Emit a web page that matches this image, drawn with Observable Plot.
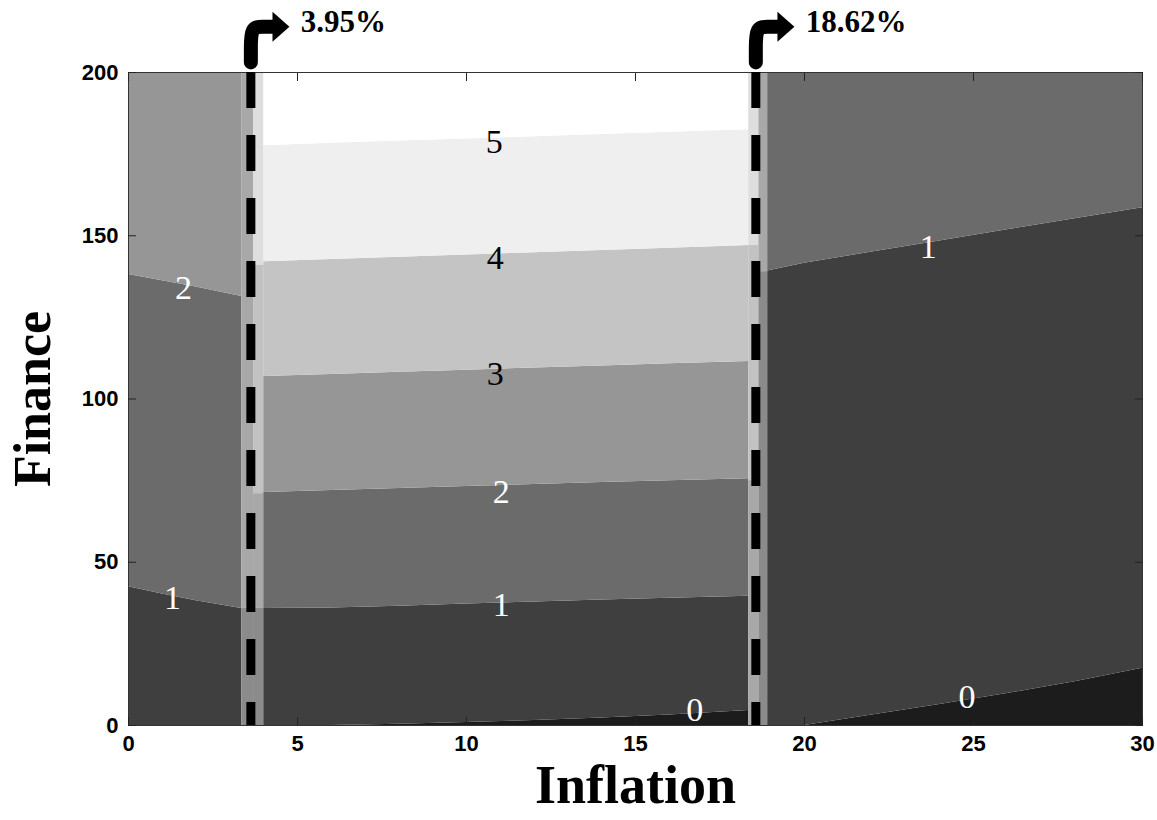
<!DOCTYPE html>
<html><head><meta charset="utf-8">
<script src="https://cdn.jsdelivr.net/npm/d3@7"></script>
<script src="https://cdn.jsdelivr.net/npm/@observablehq/plot@0.6"></script>
<style>body{margin:0;background:#fff}#chart svg{display:block}</style>
</head><body><div id="chart"></div>
<script>
// ---- axes
const xTicks = [0, 5, 10, 15, 20, 25, 30];
const yTicks = [0, 50, 100, 150, 200];

// ---- left region (inflation below the first threshold): levels 1..3
const leftX   = [0, 1, 2, 3.35];
const leftB12 = [42.5, 40.3, 38.2, 35.8];
const leftB23 = [138.1, 136.2, 134.3, 131.4];

// ---- middle region: levels 0..6
const midX   = [4.0, 6, 8, 10, 12, 14, 16, 18.35];
const midB01 = [0, 0, 0.4, 0.9, 1.5, 2.3, 3.2, 4.6];
const midB12 = [35.8, 36.0, 36.5, 37.2, 37.8, 38.4, 39.0, 39.6];
const midB23 = [71.4, 72.0, 72.6, 73.2, 73.8, 74.4, 75.0, 75.6];
const midB34 = [106.9, 107.5, 108.2, 108.8, 109.5, 110.1, 110.8, 111.5];
const midB45 = [142.0, 142.7, 143.4, 144.1, 144.8, 145.5, 146.2, 147.0];
const midB56 = [177.6, 178.3, 179.0, 179.6, 180.3, 181.0, 181.7, 182.5];

// ---- right region: levels 0..2
const rightX   = [18.91, 20, 22, 24, 26, 28, 30];
const rightB01 = [0, 0, 3.2, 6.4, 9.8, 13.4, 17.5];
const rightB12 = [139.2, 141.6, 145.0, 148.4, 151.8, 155.2, 158.6];

// ---- transition strips at the thresholds
const bandX1   = [3.35, 3.35, 3.7, 3.7, 3.7, 3.7, 18.35, 18.35, 18.35, 18.65, 18.65];
const bandX2   = [3.7, 3.7, 4.0, 4.0, 4.0, 4.0, 18.65, 18.65, 18.65, 18.91, 18.91];
const bandY1   = [36, 0, 141, 71, 36, 0, 147, 75, 0, 139, 0];
const bandY2   = [200, 36, 200, 141, 71, 36, 200, 147, 75, 200, 139];
const bandTone = ["gA", "gB", "gC", "gD", "gA", "gB", "gC", "gD", "gA", "gA", "gB"];

// ---- thresholds
const thresholds = [3.62, 18.56];
const thresholdLabels = ["3.95%", "18.62%"];

// ---- contour labels
const labelText = ["5", "4", "3", "2", "1", "0", "2", "1", "1", "0"];
const labelX = [10.82, 10.85, 10.85, 11.03, 11.03, 16.75, 1.63, 1.30, 23.66, 24.81];
const labelY = [178.6, 143.3, 107.5, 71.4, 36.8, 4.6, 134.1, 38.9, 146.4, 8.6];

// ---- palette
const toneKeys   = ["L0", "L1", "L2", "L3", "L4", "L5", "L6", "gA", "gB", "gC", "gD"];
const toneColors = ["#1c1c1c", "#3f3f3f", "#6b6b6b", "#969696", "#c4c4c4", "#efefef", "#ffffff",
                    "#a8a8a8", "#8b8b8b", "#dedede", "#c2c2c2"];

function regionRows(region, xs, inner, firstLevel) {
  const bounds = [xs.map(() => 0), ...inner, xs.map(() => 200)];
  const rows = [];
  for (let k = 0; k < bounds.length - 1; k++) {
    xs.forEach((x, i) => rows.push({region, level: "L" + (firstLevel + k), x, y1: bounds[k][i], y2: bounds[k + 1][i]}));
  }
  return rows;
}
const areaRows = [
  ...regionRows("left", leftX, [leftB12, leftB23], 1),
  ...regionRows("mid", midX, [midB01, midB12, midB23, midB34, midB45, midB56], 0),
  ...regionRows("right", rightX, [rightB01, rightB12], 0)
];
const bandRows = bandX1.map((x1, i) => ({x1, x2: bandX2[i], y1: bandY1[i], y2: bandY2[i], tone: bandTone[i]}));
const labelRows = labelText.map((t, i) => ({text: t, x: labelX[i], y: labelY[i]}));

const arrowRows = thresholds.flatMap((t, i) =>
  [[t, 203.1], [t, 207.0], [t, 214.0], [t + 0.35, 214.0], [t + 0.66, 214.0]].map(([x, y]) => ({id: i, x, y})));

const arrowHead = {
  draw(context, size) {
    const r = Math.sqrt(size / Math.PI);
    context.moveTo(r * 1.13, 0);
    context.lineTo(0, -r);
    context.lineTo(0, r);
    context.closePath();
  }
};

const chart = Plot.plot({
  width: 1157,
  height: 820,
  marginLeft: 128,
  marginRight: 15,
  marginTop: 72,
  marginBottom: 95,
  x: {domain: [0, 30]},
  y: {domain: [0, 200]},
  color: {type: "ordinal", domain: toneKeys, range: toneColors},
  style: {fontFamily: "Liberation Sans", fontSize: "22px", fontWeight: "bold", background: "white", color: "black"},
  marks: [
    Plot.areaY(areaRows, {x: "x", y1: "y1", y2: "y2", z: d => d.region + d.level, fill: "level"}),
    Plot.rect(bandRows, {x1: "x1", x2: "x2", y1: "y1", y2: "y2", fill: "tone"}),
    Plot.frame({stroke: "#333", strokeWidth: 1}),
    Plot.axisX({ticks: xTicks, anchor: "bottom", tickSize: -8, text: null, label: null, stroke: "#222"}),
    Plot.axisX({ticks: xTicks, anchor: "top", tickSize: -8, text: null, label: null, stroke: "#222"}),
    Plot.axisY({ticks: yTicks, anchor: "left", tickSize: -8, text: null, label: null, stroke: "#222"}),
    Plot.axisY({ticks: yTicks, anchor: "right", tickSize: -8, text: null, label: null, stroke: "#222"}),
    Plot.axisX({ticks: xTicks, anchor: "bottom", tickSize: 0, tickPadding: 10, label: null, fontSize: 22, fontWeight: "bold"}),
    Plot.axisY({ticks: yTicks, anchor: "left", tickSize: 0, tickPadding: 10, label: null, fontSize: 22, fontWeight: "bold"}),
    Plot.ruleX(thresholds, {x: d => d, y1: 200, y2: 0, stroke: "black", strokeWidth: 9, strokeDasharray: "36,27"}),
    Plot.text(labelRows, {x: "x", y: "y", text: "text", fill: d => (+d.text >= 3 ? "black" : "white"),
      fontFamily: "Liberation Serif", fontWeight: "normal", fontSize: 34, lineAnchor: "middle"}),
    Plot.line(arrowRows, {x: "x", y: "y", z: "id", stroke: "black", strokeWidth: 14, curve: "basis"}),
    Plot.dot(thresholds, {x: d => d + 0.64, y: () => 214.0, symbol: arrowHead, r: 15, fill: "black", stroke: "none"}),
    Plot.text(thresholds, {x: d => d, y: () => 200, text: (d, i) => thresholdLabels[i], dx: 50, dy: -50,
      textAnchor: "start", lineAnchor: "middle", fontFamily: "Liberation Serif", fontWeight: "bold", fontSize: 31, fill: "black"}),
    Plot.text(["Inflation"], {frameAnchor: "bottom", text: d => d, dy: 60, textAnchor: "middle", lineAnchor: "middle",
      fontFamily: "Liberation Serif", fontWeight: "bold", fontSize: 54, fill: "black"}),
    Plot.text(["Finance"], {frameAnchor: "left", text: d => d, dx: -95, rotate: -90, textAnchor: "middle", lineAnchor: "middle",
      fontFamily: "Liberation Serif", fontWeight: "bold", fontSize: 52, fill: "black"})
  ]
});
document.getElementById("chart").append(chart);
</script>
</body></html>
